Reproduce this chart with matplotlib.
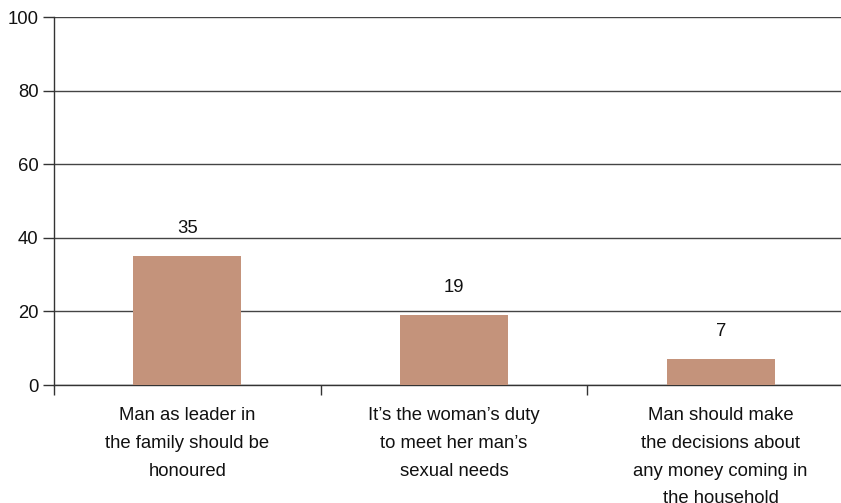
import matplotlib
matplotlib.use("Agg")
import matplotlib.pyplot as plt
import numpy as np

categories = [
    "Man as leader in\nthe family should be\nhonoured",
    "It\u2019s the woman\u2019s duty\nto meet her man\u2019s\nsexual needs",
    "Man should make\nthe decisions about\nany money coming in\nthe household",
]
values = [35, 19, 7]
yticks = [0, 20, 40, 60, 80, 100]

plt.rcParams['font.family'] = ['Liberation Sans', 'DejaVu Sans']
FS = 13.3

W, H = 841, 503
fig = plt.figure(figsize=(W / 100, H / 100), dpi=100)
left, right = 54, 854
bottom, top = 385, 17
ax = fig.add_axes([left / W, (H - bottom) / H, (right - left) / W, (bottom - top) / H])

x = np.arange(len(values))
bars = ax.bar(x, values, width=0.405, color='#C4937B', zorder=3)
ax.set_xlim(-0.5, len(values) - 0.5)
ax.set_ylim(0, 100)
ax.set_yticks(yticks)
ax.set_yticklabels([str(t) for t in yticks], fontsize=FS, color='#111111')
ax.yaxis.grid(True, color='#444444', linewidth=1.0, zorder=0)
ax.set_axisbelow(True)

for spine in ['top', 'right']:
    ax.spines[spine].set_visible(False)
ax.spines['left'].set_color('#333333')
ax.spines['bottom'].set_color('#333333')
ax.spines['left'].set_linewidth(1.0)
ax.spines['bottom'].set_linewidth(1.0)

ax.tick_params(axis='y', length=8, width=1, color='#333333', pad=3)
ax.set_xticks(np.arange(len(values) + 1) - 0.5)
ax.set_xticklabels([])
ax.tick_params(axis='x', length=7, width=1, color='#333333')

for xi, v in zip(x, values):
    ax.annotate(str(v), (xi, v), xytext=(0, 20), textcoords='offset points',
                ha='center', va='center', fontsize=FS, color='#111111')

for xi, c in zip(x, categories):
    ax.annotate(c, (xi, 0), xytext=(0, -16), textcoords='offset points',
                ha='center', va='top', fontsize=FS, color='#111111',
                linespacing=1.82, annotation_clip=False)

fig.savefig("out.png", dpi=100)
